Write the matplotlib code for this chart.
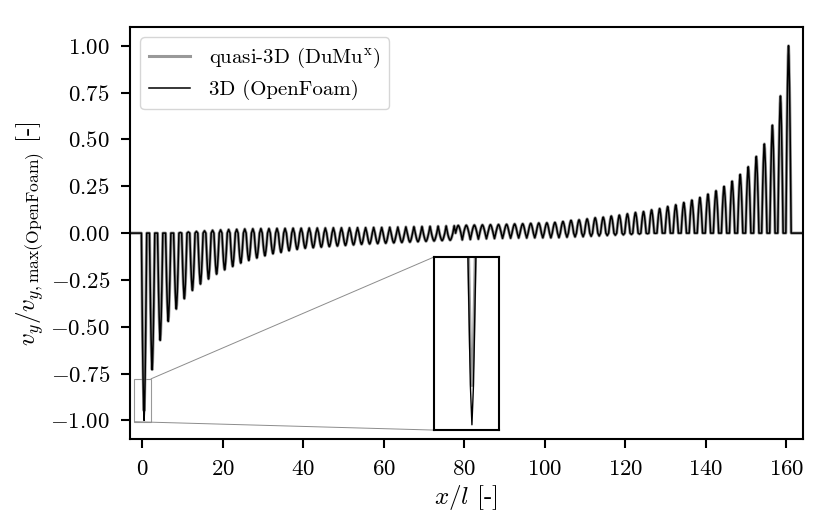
import matplotlib.pyplot as plt
import numpy as np
from matplotlib.patches import Rectangle, ConnectionPatch

plt.rcParams.update({
    "font.family": "serif",
    "font.serif": ["cmr10", "DejaVu Serif"],
    "mathtext.fontset": "cm",
    "axes.formatter.use_mathtext": True,
    "font.size": 15,
})

# value at the centre of each gap (x = 0.5, 2.5, ..., 160.5), 3D OpenFoam
openfoam_peaks = [
    -1.000, -0.729, -0.572, -0.471, -0.405, -0.350, -0.306, -0.272, -0.245, -0.219,
    -0.196, -0.178, -0.160, -0.146, -0.133, -0.121, -0.110, -0.103, -0.094, -0.087,
    -0.081, -0.078, -0.075, -0.072, -0.069, -0.066, -0.063, -0.060, -0.058, -0.056,
    -0.054, -0.052, -0.050, -0.048, -0.046, -0.044, -0.042, -0.040, -0.038, 0.041,
    0.042, 0.043, 0.044, 0.045, 0.046, 0.047, 0.049, 0.050, 0.052, 0.054,
    0.055, 0.057, 0.062, 0.068, 0.071, 0.076, 0.082, 0.085, 0.091, 0.096,
    0.103, 0.110, 0.115, 0.124, 0.131, 0.142, 0.151, 0.163, 0.176, 0.190,
    0.208, 0.226, 0.249, 0.277, 0.313, 0.354, 0.409, 0.476, 0.576, 0.732,
    1.000,
]
# value half way between two gaps (x = 1.5, 3.5, ..., 159.5)
openfoam_mids = [
    0.000, 0.000, 0.000, 0.000, 0.003, 0.006, 0.009, 0.012, 0.015, 0.017,
    0.019, 0.020, 0.022, 0.023, 0.024, 0.024, 0.025, 0.025, 0.026, 0.026,
    0.027, 0.027, 0.027, 0.028, 0.028, 0.028, 0.029, 0.029, 0.030, 0.030,
    0.031, 0.032, 0.033, 0.034, 0.035, 0.036, 0.037, 0.038, 0.039, -0.036,
    -0.034, -0.032, -0.030, -0.029, -0.028, -0.027, -0.026, -0.026, -0.025, -0.025,
    -0.025, -0.024, -0.022, -0.020, -0.019, -0.017, -0.015, -0.013, -0.011, -0.009,
    -0.007, -0.005, -0.003, -0.001, 0.000, 0.000, 0.000, 0.000, 0.000, 0.000,
    0.000, 0.000, 0.000, 0.000, 0.000, 0.000, 0.000, 0.000, 0.000, 0.000,
]
# quasi-3D DuMux: same as OpenFoam except the first dip is shallower
dumux_peaks = list(openfoam_peaks)
dumux_peaks[0] = -0.948
dumux_mids = list(openfoam_mids)

# shape of one pulse (offset from gap centre, fraction of peak)
pulse_offsets = [-0.66, -0.55, -0.40, -0.25, -0.10, 0.0, 0.10, 0.25, 0.40, 0.55, 0.66]
pulse_shape = [0.0, 0.247, 0.542, 0.78, 0.947, 1.0, 0.947, 0.78, 0.542, 0.247, 0.0]

first_gap = 0.5
period = 2.0


def build_curve(peaks, mids):
    xs = [-4.0]
    ys = [0.0]
    for k, a in enumerate(peaks):
        c = first_gap + period * k
        for d, w in zip(pulse_offsets, pulse_shape):
            xs.append(c + d)
            ys.append(a * w)
        if k < len(mids):
            xs.append(c + period / 2)
            ys.append(mids[k])
    xs.append(166.0)
    ys.append(0.0)
    return np.array(xs), np.array(ys)


x_dm, y_dm = build_curve(dumux_peaks, dumux_mids)
x_of, y_of = build_curve(openfoam_peaks, openfoam_mids)

fig = plt.figure(figsize=(8.3, 5.31), dpi=100)
ax = fig.add_axes([0.1566, 0.173, 0.8104, 0.776])

ax.plot(x_dm, y_dm, color="0.6", lw=2.2, label=r"quasi-3D (DuMu$^{\rm x}$)")
ax.plot(x_of, y_of, color="black", lw=1.1, label="3D (OpenFoam)")

ax.set_xlim(-3, 164)
ax.set_ylim(-1.1, 1.1)
ax.set_yticks(np.arange(-1.0, 1.01, 0.25))
ax.set_xticks(np.arange(0, 161, 20))
ax.set_xlabel(r"$x/l$ [-]", fontsize=18, labelpad=3)
ax.set_ylabel(r"$v_y/v_{y,\max(\mathrm{OpenFoam})}$ [-]", fontsize=18, labelpad=2)
ax.tick_params(width=1.5, length=6.5, pad=8, labelsize=16.5)
for s in ax.spines.values():
    s.set_linewidth(1.5)
ax.legend(loc="upper left", fontsize=15, handletextpad=0.9)

# zoom inset on the first dip
x1, x2, y1, y2 = -1.9, 2.23, -1.007, -0.778
axins = ax.inset_axes([0.452, 0.022, 0.097, 0.42])
axins.plot(x_dm, y_dm, color="0.6", lw=2.2)
axins.plot(x_of, y_of, color="black", lw=1.0)
axins.set_xlim(x1, x2)
axins.set_ylim(y1, y2)
axins.set_xticks([])
axins.set_yticks([])
for s in axins.spines.values():
    s.set_linewidth(1.5)

ax.add_patch(Rectangle((x1, y1), x2 - x1, y2 - y1, fill=False, ec="0.6", lw=0.8))
con1 = ConnectionPatch(xyA=(x2, y2), coordsA=ax.transData, xyB=(0, 1),
                       coordsB=axins.transAxes, color="0.55", lw=0.7)
con2 = ConnectionPatch(xyA=(x1, y1), coordsA=ax.transData, xyB=(0, 0),
                       coordsB=axins.transAxes, color="0.55", lw=0.7)
ax.add_artist(con1)
ax.add_artist(con2)

fig.savefig("out.png", dpi=100)
